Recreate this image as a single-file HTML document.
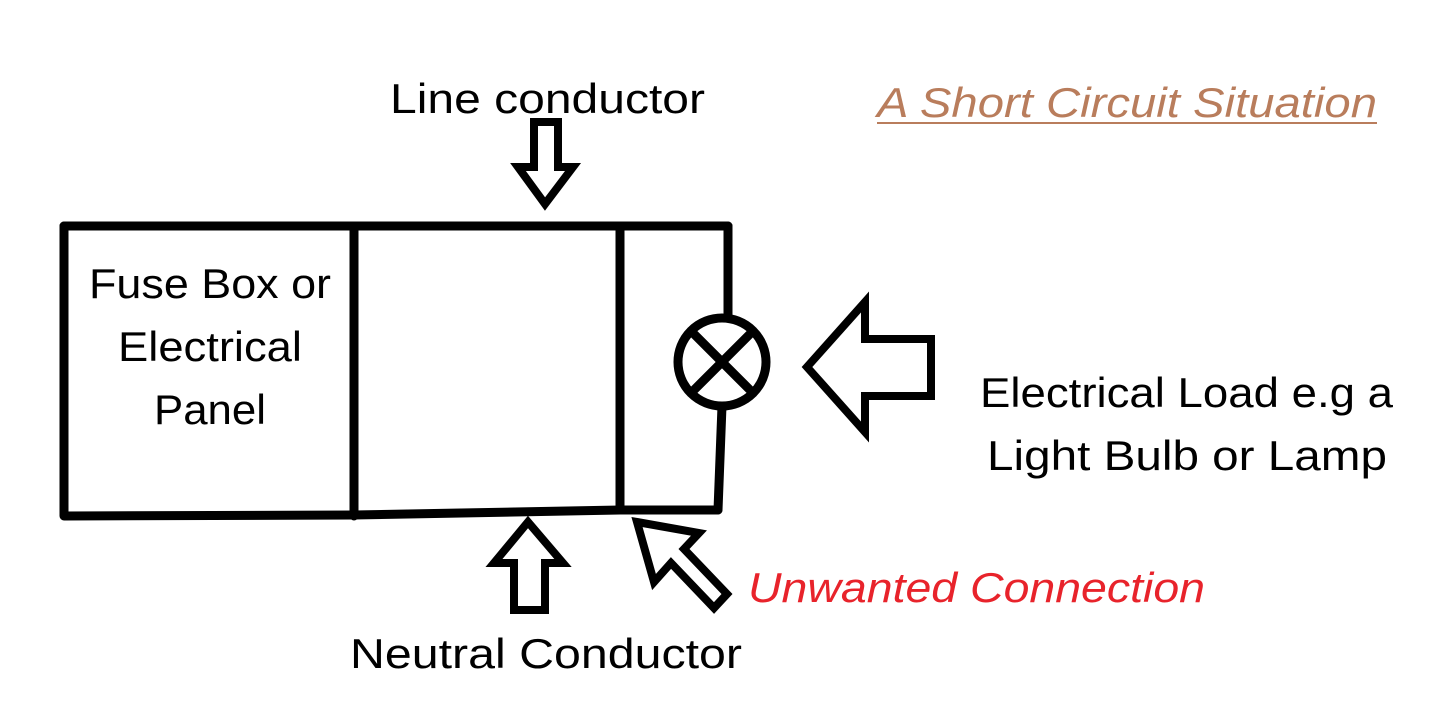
<!DOCTYPE html>
<html><head><style>body{margin:0;background:#fff}svg{display:block}</style></head><body>
<svg width="1450" height="704" viewBox="0 0 1450 704" xmlns="http://www.w3.org/2000/svg">
<rect width="1450" height="704" fill="#fff"/>
<g fill="none" stroke="#000" stroke-width="9" stroke-linecap="round" stroke-linejoin="round">
<polyline points="64,226 728,226"/>
<polyline points="64,226 64,516 354,515 620,510 718,510"/>
<line x1="354" y1="226" x2="354" y2="516"/>
<line x1="620" y1="230" x2="620" y2="510"/>
<line x1="728" y1="226" x2="728" y2="318"/>
<line x1="722" y1="406" x2="718" y2="510"/>
<circle cx="722" cy="362" r="44"/>
<line x1="691" y1="331" x2="753" y2="393"/>
<line x1="753" y1="331" x2="691" y2="393"/>
</g>
<g fill="#fff" stroke="#000" stroke-width="8" stroke-linejoin="miter">
<polygon points="534,122 558,122 558,167 573,167 545,204 518,167 534,167"/>
<polygon points="528,522 563,563 545,563 545,610 514,610 514,563 494,563"/>
<polygon points="807,367 865,302 865,339 931,339 931,396 865,396 865,432"/>
<polygon points="637,522 699,533 684,549 727,594 714,608 671,563 654,582"/>
</g>
<g font-family="'Liberation Sans',sans-serif" font-size="42" fill="#000">
<text x="390" y="113" textLength="315" lengthAdjust="spacingAndGlyphs">Line conductor</text>
<text x="210" y="298" text-anchor="middle" textLength="242" lengthAdjust="spacingAndGlyphs">Fuse Box or</text>
<text x="210" y="361" text-anchor="middle" textLength="184" lengthAdjust="spacingAndGlyphs">Electrical</text>
<text x="210" y="424" text-anchor="middle" textLength="112" lengthAdjust="spacingAndGlyphs">Panel</text>
<text x="980" y="407" textLength="413" lengthAdjust="spacingAndGlyphs">Electrical Load e.g a</text>
<text x="987" y="470" textLength="400" lengthAdjust="spacingAndGlyphs">Light Bulb or Lamp</text>
<text x="350" y="668" textLength="392" lengthAdjust="spacingAndGlyphs">Neutral Conductor</text>
<text x="748" y="602" fill="#e8232b" font-style="italic" textLength="457" lengthAdjust="spacingAndGlyphs">Unwanted Connection</text>
<text x="877" y="117" fill="#b97d5c" font-style="italic" textLength="500" lengthAdjust="spacingAndGlyphs">A Short Circuit Situation</text>
</g>
<line x1="877" y1="123" x2="1377" y2="123" stroke="#b97d5c" stroke-width="2"/>
</svg>
</body></html>
